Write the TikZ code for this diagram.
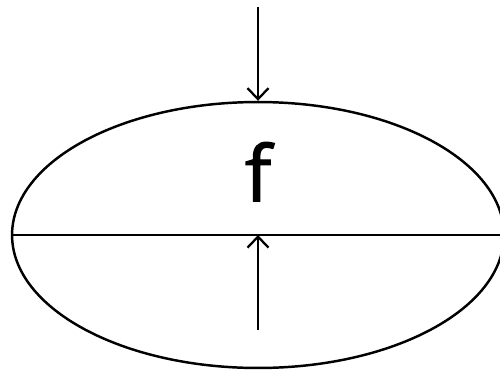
\documentclass[tikz,border=0pt]{standalone}
\usepackage{fontspec}
\newfontfamily\labelfont[FakeBold=1.6]{Open Sans}
\usetikzlibrary{arrows.meta, positioning, shapes.geometric}

\begin{document}
\begin{tikzpicture}[
			x=0.02cm, y=-0.02cm,
			body/.style={ellipse, draw, line width=1.4pt, minimum width=9.84cm, minimum height=5.32cm, inner sep=0pt},
			arrow/.style={-{Straight Barb[length=2.2mm, width=4.2mm]}, line width=1.3pt}
		]
		\useasboundingbox (0,0) rectangle (500,372);
		\node[body] (ell) at (258,235) {};
		\node[font=\labelfont\fontsize{44}{44}\selectfont, above=0.55cm of ell.center] (f) {f};
		
		\coordinate (top) at (258,7);
		\coordinate (low) at (258,330);
		
		\draw[line width=1.4pt] (ell.west) -- (ell.east);
		\draw[arrow] (top) -- (ell.north);
		\draw[arrow] (low) -- (ell.center);
		\end{tikzpicture}
\end{document}
